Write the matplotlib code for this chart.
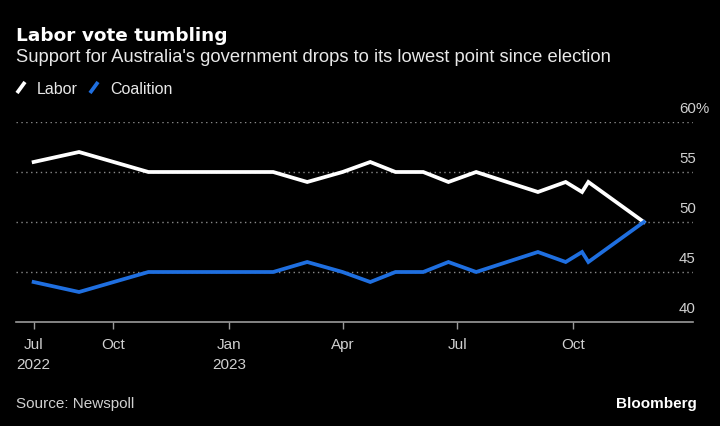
import matplotlib
matplotlib.use('Agg')
import matplotlib.pyplot as plt
import matplotlib.transforms as mtransforms
from matplotlib.lines import Line2D
import pandas as pd

# Newspoll two-party preferred, %
poll_dates = ['2022-07-30', '2022-09-04', '2022-10-29', '2023-02-05', '2023-03-04',
              '2023-04-01', '2023-04-23', '2023-05-13', '2023-06-04', '2023-06-24',
              '2023-07-16', '2023-09-03', '2023-09-25', '2023-10-08', '2023-10-13',
              '2023-11-26']
labor = [56, 57, 55, 55, 54, 55, 56, 55, 55, 54, 55, 53, 54, 53, 54, 50]
coalition = [44, 43, 45, 45, 46, 45, 44, 45, 45, 46, 45, 47, 46, 47, 46, 50]

tick_dates = ['2022-07-30', '2022-10-01', '2023-01-01', '2023-04-01', '2023-07-01', '2023-10-01']
tick_labels = ['Jul\n2022', 'Oct', 'Jan\n2023', 'Apr', 'Jul', 'Oct']
y_ticks = [40, 45, 50, 55, 60]

WHITE = '#ffffff'
BLUE = '#1f6fe0'
GREY = '#d0d0d0'
FONT = 'Liberation Sans'

W, H = 720, 427
fig = plt.figure(figsize=(W / 100, H / 100), dpi=100, facecolor='black')
ax = fig.add_axes([16 / W, 1 - 323 / H, 677 / W, 200 / H])
ax.set_facecolor('black')

dates = pd.to_datetime(poll_dates)
ax.plot(dates, labor, color=WHITE, lw=2.7, solid_joinstyle='miter', zorder=3)
ax.plot(dates, coalition, color=BLUE, lw=2.7, solid_joinstyle='miter', zorder=3)

ax.set_xlim(pd.Timestamp('2022-07-16'), pd.Timestamp('2024-01-04'))
ax.set_ylim(40, 60)

for v in y_ticks[1:]:
    ax.axhline(v, color='#8a8a8a', lw=1, ls=(0, (1, 2.5)), zorder=1)

for side in ['top', 'right', 'left']:
    ax.spines[side].set_visible(False)
ax.spines['bottom'].set_color('#9a9a9a')
ax.spines['bottom'].set_linewidth(1.2)

ax.set_yticks([])
ax.set_xticks(pd.to_datetime(tick_dates))
ax.set_xticklabels(tick_labels, fontsize=11, color=GREY, family=FONT, linespacing=1.5)
ax.tick_params(axis='x', direction='out', length=5, width=1, color='#9a9a9a', pad=6)

trans = mtransforms.blended_transform_factory(ax.transAxes, ax.transData)
off = mtransforms.offset_copy(trans, fig=fig, x=2, y=7, units='points')
for v in y_ticks:
    ax.text(1.0, v, str(v), transform=off, ha='right', va='baseline',
            fontsize=10.8, color=GREY, family=FONT)
ax.text(1.0, y_ticks[-1], '%', transform=off, ha='left', va='baseline',
        fontsize=10.8, color=GREY, family=FONT)

fig.text(16 / W, 1 - 41 / H, 'Labor vote tumbling', fontsize=13.3, fontweight='bold',
         color=WHITE, family='DejaVu Sans', va='baseline')
fig.text(16 / W, 1 - 62 / H, "Support for Australia's government drops to its lowest point since election",
         fontsize=13.2, color='#e8e8e8', family=FONT, va='baseline')

# legend: slanted strokes
for x0, col in [(17, WHITE), (90, BLUE)]:
    fig.add_artist(Line2D([x0 / W, (x0 + 8) / W], [1 - 94 / H, 1 - 83 / H],
                          color=col, lw=2.7, solid_capstyle='butt'))
fig.text(37 / W, 1 - 94 / H, 'Labor', fontsize=11.5, color='#e8e8e8', family=FONT, va='baseline')
fig.text(110 / W, 1 - 94 / H, 'Coalition', fontsize=11.5, color='#e8e8e8', family=FONT, va='baseline')

fig.text(16 / W, 1 - 408 / H, 'Source: Newspoll', fontsize=11, color=GREY, family=FONT, va='baseline')
fig.text(697 / W, 1 - 408 / H, 'Bloomberg', fontsize=11, color=WHITE, family=FONT,
         fontweight='bold', ha='right', va='baseline')

fig.savefig('out.png', dpi=100, facecolor='black')
